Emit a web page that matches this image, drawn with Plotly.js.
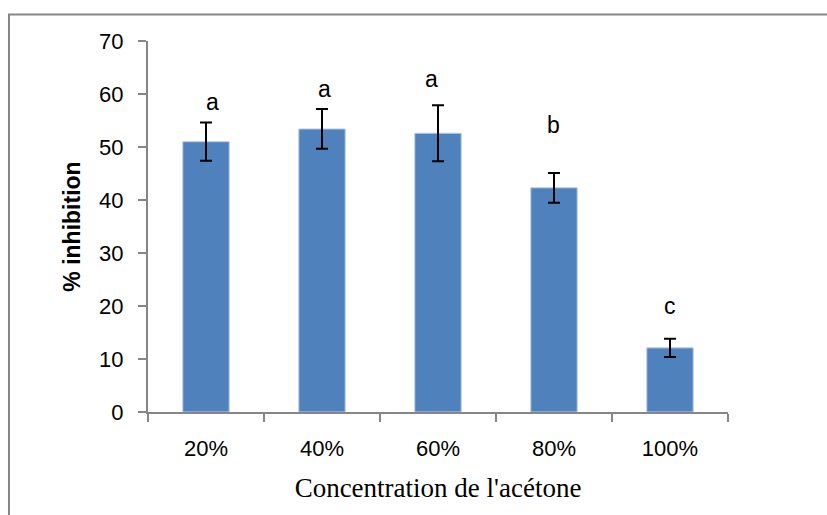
<!DOCTYPE html>
<html>
<head>
<meta charset="utf-8">
<script src="https://cdn.plot.ly/plotly-3.0.1.min.js"></script>
<style>html,body{margin:0;padding:0;background:#fff;}#chart{width:827px;height:515px;}</style>
</head>
<body>
<div id="chart"></div>
<script>
const categories = ['20%', '40%', '60%', '80%', '100%'];
const inhibition = [51.0, 53.4, 52.6, 42.3, 12.1];
const errors = [3.6, 3.75, 5.3, 2.8, 1.7];
const groupLetters = ['a', 'a', 'a', 'b', 'c'];
const letterY = [58.5, 60.9, 62.8, 54.2, 20.0];
const letterShift = [6, 2, -7, -1, 0];

const trace = {
  type: 'bar',
  x: categories,
  y: inhibition,
  marker: {color: '#4f81bd', line: {color: '#b9cde5', width: 1}},
  error_y: {type: 'data', array: errors, visible: true, color: '#000', thickness: 2, width: 6},
  hoverinfo: 'none'
};

const annotations = categories.map((c, i) => ({
  x: c, y: letterY[i], xref: 'x', yref: 'y', text: groupLetters[i],
  showarrow: false, xshift: letterShift[i], yanchor: 'middle',
  font: {family: 'Liberation Sans, Arial, sans-serif', size: 23, color: '#000'}
}));

const layout = {
  width: 827, height: 515,
  margin: {l: 148, r: 99, t: 41, b: 103},
  paper_bgcolor: '#fff', plot_bgcolor: '#fff',
  showlegend: false,
  bargap: 0.6,
  font: {family: 'Liberation Sans, Arial, sans-serif', color: '#000'},
  xaxis: {
    type: 'category',
    range: [-0.5, 4.5],
    showline: true, linecolor: '#868686', linewidth: 2,
    ticks: 'outside', tickson: 'boundaries', ticklen: 8, tickcolor: '#868686', tickwidth: 2,
    showgrid: false, zeroline: false,
    tickfont: {size: 22, family: 'Liberation Sans, Arial, sans-serif'},
    ticklabelstandoff: 16,
    title: {text: "Concentration de l'acétone", font: {family: 'Liberation Serif, Times New Roman, serif', size: 27, color: '#000'}, standoff: 18}
  },
  yaxis: {
    range: [0, 70], dtick: 10,
    showline: true, linecolor: '#868686', linewidth: 2,
    ticks: 'outside', ticklen: 8, tickcolor: '#868686', tickwidth: 2,
    showgrid: false, zeroline: false,
    tickfont: {size: 22, family: 'Liberation Sans, Arial, sans-serif'},
    ticklabelstandoff: 10,
    title: {text: '<b>% inhibition</b>', font: {family: 'Liberation Sans, Arial, sans-serif', size: 23, color: '#000'}, standoff: 12}
  },
  annotations: annotations,
  shapes: [{
    type: 'rect', xref: 'paper', yref: 'paper',
    x0: -0.2397, x1: 1.3, y0: -0.5, y1: 1.0714,
    line: {color: '#868686', width: 2}, fillcolor: 'rgba(0,0,0,0)', layer: 'below'
  }]
};

Plotly.newPlot('chart', [trace], layout, {staticPlot: true, displayModeBar: false});
</script>
</body>
</html>
